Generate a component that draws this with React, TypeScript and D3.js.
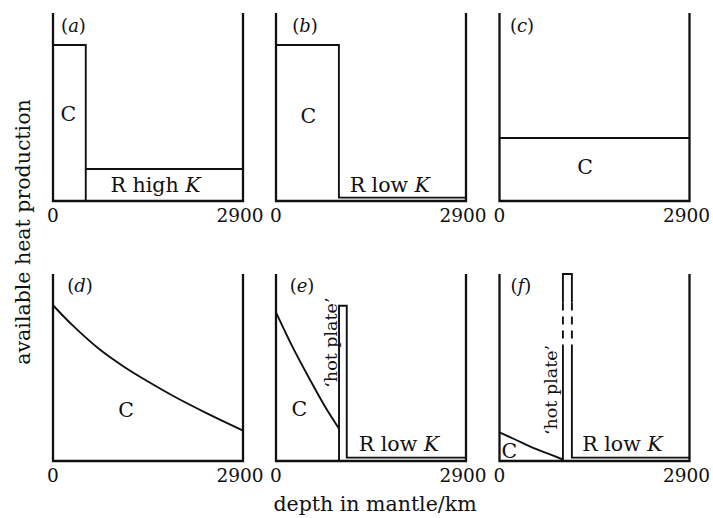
import React from 'react';
import * as d3 from 'd3';

type Pt = [number, number];

// ---- data (depth km, relative available heat production 0..100) ----
const depthTicks = [0, 2900];
const panelIds = ['a', 'b', 'c', 'd', 'e', 'f'];

const aCrust: Pt[] = [[0, 83], [500, 83], [500, 0]];
const aReservoir: Pt[] = [[500, 17], [2900, 17]];

const bCrust: Pt[] = [[0, 83], [960, 83], [960, 1.8], [2900, 1.8]];

const cCrust: Pt[] = [[0, 33.5], [2900, 33.5]];

const dCurve: Pt[] = [[0, 83.3], [300, 72.5], [700, 60], [1100, 50], [1450, 42.5], [1850, 34.5], [2350, 25.5], [2900, 16.3]];

const eCurve: Pt[] = [[0, 79.5], [260, 60.5], [526, 43], [750, 29], [962, 17.3]];
const ePlate: Pt[] = [[962, 0], [962, 83], [1080, 83], [1080, 1.8], [2900, 1.8]];

const fCurve: Pt[] = [[0, 15.3], [240, 11.5], [470, 7.7], [720, 4.2], [968, 0.8]];
const fPlateTop: Pt[] = [[968, 84.7], [968, 100], [1105, 100], [1105, 84.7]];
const fPlateDashL: Pt[] = [[968, 84.7], [968, 62]];
const fPlateDashR: Pt[] = [[1105, 84.7], [1105, 62]];
const fPlateLowL: Pt[] = [[968, 62], [968, 0]];
const fPlateLowR: Pt[] = [[1105, 62], [1105, 1.8], [2900, 1.8]];

// ---- layout ----
const W = 713, H = 518;
const colX = [53, 276, 499.5];
const panelW = 190;
const rows = [{ top: 13, bottom: 201 }, { top: 274, bottom: 461 }];
const FONT = '"DejaVu Serif", serif';

const line = (x: d3.ScaleLinear<number, number>, y: d3.ScaleLinear<number, number>, curved = false) => {
  const l = d3.line<Pt>().x(d => x(d[0])).y(d => y(d[1]));
  if (curved) l.curve(d3.curveCatmullRom.alpha(0.5));
  return l;
};

type Label = { text: React.ReactNode; d: number; h: number; size: number; rotate?: boolean };

const panelLabels: Record<string, Label[]> = {
  a: [
    { text: 'C', d: 234, h: 42.7, size: 20.5 },
    { text: <>R high <tspan fontStyle="italic">K</tspan></>, d: 1565, h: 4.8, size: 20.5 },
  ],
  b: [
    { text: 'C', d: 493, h: 41.6, size: 20.5 },
    { text: <>R low <tspan fontStyle="italic">K</tspan></>, d: 1737, h: 4.9, size: 20.5 },
  ],
  c: [{ text: 'C', d: 1305, h: 14.4, size: 20.5 }],
  d: [{ text: 'C', d: 1114, h: 23.4, size: 20.5 }],
  e: [
    { text: 'C', d: 355, h: 24.2, size: 20.5 },
    { text: '\u2018hot plate\u2019', d: 931, h: 63.3, size: 17.5, rotate: true },
    { text: <>R low <tspan fontStyle="italic">K</tspan></>, d: 1877, h: 5.5, size: 20.5 },
  ],
  f: [
    { text: 'C', d: 150, h: 1.6, size: 20.5 },
    { text: '\u2018hot plate\u2019', d: 877, h: 38, size: 17.5, rotate: true },
    { text: <>R low <tspan fontStyle="italic">K</tspan></>, d: 1877, h: 5.5, size: 20.5 },
  ],
};

const idPos: Record<string, Pt> = {
  a: [313, 89.9], b: [443, 89.9], c: [343, 89.9], d: [412, 90.4], e: [397, 90.4], f: [328, 90.4],
};

function Panel({ id, idx }: { id: string; idx: number }) {
  const col = idx % 3;
  const row = Math.floor(idx / 3);
  const x0 = colX[col];
  const { top, bottom } = rows[row];
  const x = d3.scaleLinear().domain([0, 2900]).range([x0, x0 + panelW]);
  const y = d3.scaleLinear().domain([0, 100]).range([bottom, top]);
  const L = line(x, y);
  const LC = line(x, y, true);
  const stroke = '#111';
  const sw = 1.9;

  const paths: { d: string; dash?: string }[] = [];
  if (id === 'a') { paths.push({ d: L(aCrust)! }, { d: L(aReservoir)! }); }
  if (id === 'b') { paths.push({ d: L(bCrust)! }); }
  if (id === 'c') { paths.push({ d: L(cCrust)! }); }
  if (id === 'd') { paths.push({ d: LC(dCurve)! }); }
  if (id === 'e') { paths.push({ d: LC(eCurve)! }, { d: L(ePlate)! }); }
  if (id === 'f') {
    paths.push({ d: LC(fCurve)! }, { d: L(fPlateTop)! }, { d: L(fPlateLowL)! }, { d: L(fPlateLowR)! });
    paths.push({ d: L(fPlateDashL)!, dash: '8 6' }, { d: L(fPlateDashR)!, dash: '8 6' });
  }

  const frame: Pt[] = [[0, 100], [0, 0], [2900, 0], [2900, 100]];

  return (
    <g>
      <path d={L(frame)!} fill="none" stroke={stroke} strokeWidth={2.3} />
      {paths.map((p, i) => (
        <path key={i} d={p.d} fill="none" stroke={stroke} strokeWidth={sw} strokeDasharray={p.dash} />
      ))}
      {depthTicks.map((t, i) => (
        <text key={t} x={x(t) - (i === 1 ? 3 : 0)} y={bottom + 20.5} textAnchor="middle" fontSize={18.5} fontFamily={FONT} fill="#111">{t}</text>
      ))}
      <text x={x(idPos[id][0])} y={y(idPos[id][1])} textAnchor="middle" fontSize={18} fontFamily={FONT} fill="#111">
        (<tspan fontStyle="italic">{id}</tspan>)
      </text>
      {panelLabels[id].map((lb, i) => lb.rotate ? (
        <text key={i} transform={`translate(${x(lb.d)},${y(lb.h)}) rotate(-90)`} textAnchor="middle" fontSize={lb.size} fontFamily={FONT} fill="#111">{lb.text}</text>
      ) : (
        <text key={i} x={x(lb.d)} y={y(lb.h)} textAnchor="middle" fontSize={lb.size} fontFamily={FONT} fill="#111">{lb.text}</text>
      ))}
    </g>
  );
}

export default function App() {
  return (
    <svg width={W} height={H} style={{ position: 'absolute', left: 0, top: 0, background: '#fff' }}>
      <rect width={W} height={H} fill="#fff" />
      {panelIds.map((id, i) => <Panel key={id} id={id} idx={i} />)}
      <text transform="translate(29.5,232) rotate(-90)" textAnchor="middle" fontSize={20.5} fontFamily={FONT} fill="#111">available heat production</text>
      <text x={375} y={511} textAnchor="middle" fontSize={20.5} fontFamily={FONT} fill="#111">depth in mantle/km</text>
    </svg>
  );
}
